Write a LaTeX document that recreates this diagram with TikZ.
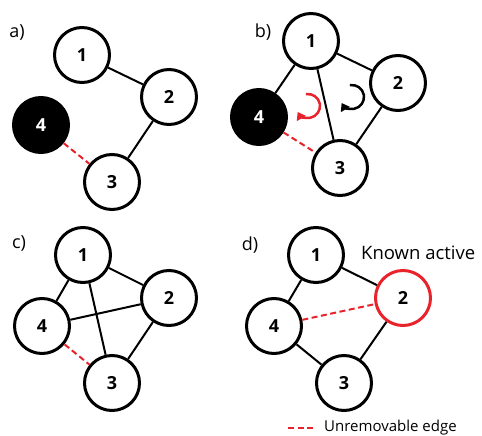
\documentclass[tikz,border=0pt]{standalone}
\usepackage{fontspec}
\setmainfont{Open Sans}
\usetikzlibrary{arrows.meta}
\definecolor{alertred}{HTML}{E8232B}
\begin{document}
\begin{tikzpicture}[x=1pt,y=-1pt,
  vertex/.style={circle,draw=black,line width=3pt,minimum size=55pt,inner sep=0pt,
    fill=white,font=\fontsize{18}{20}\selectfont\bfseries},
  blackvertex/.style={vertex,fill=black,text=white},
  activevertex/.style={vertex,draw=alertred},
  edge/.style={line width=2pt,black},
  fixededge/.style={line width=2pt,alertred,dash pattern=on 6pt off 3.5pt},
  panel/.style={inner sep=0pt,font=\fontsize{18}{20}\selectfont},
  caption/.style={inner sep=0pt,anchor=west},
  turn/.style={line width=2.5pt,-{Triangle[length=7.5pt,width=10pt]}}
]
\useasboundingbox (0,0) rectangle (482,436);

% ---- a) ----
\node[panel] (la) at (17,32) {a)};
\node[vertex] (a1) at (82,55) {1};
\node[vertex] (a2) at (169,97) {2};
\node[vertex] (a3) at (112,182) {3};
\node[blackvertex] (a4) at (41,125) {4};
\draw[edge] (a1) -- (a2);
\draw[edge] (a2) -- (a3);
\draw[fixededge] (a4) -- (a3);

% ---- b) ----
\node[panel] (lb) at (263,32) {b)};
\node[vertex] (b1) at (311,41) {1};
\node[vertex] (b2) at (398,83) {2};
\node[vertex] (b3) at (340,168) {3};
\node[blackvertex] (b4) at (259,117) {4};
\draw[edge] (b1) -- (b2);
\draw[edge] (b2) -- (b3);
\draw[edge] (b1) -- (b4);
\draw[edge] (b1) -- (b3);
\draw[fixededge] (b4) -- (b3);
% cycle orientation marks
\draw[turn,alertred] (308,106) ++(-100:12) arc[start angle=-100,end angle=150,radius=12];
\draw[turn,black] (352,97) ++(-100:12) arc[start angle=-100,end angle=150,radius=12];

% ---- c) ----
\node[panel] (lc) at (19,243) {c)};
\node[vertex] (c1) at (83,255) {1};
\node[vertex] (c2) at (169,298) {2};
\node[vertex] (c3) at (112,383) {3};
\node[vertex] (c4) at (42,326) {4};
\draw[edge] (c1) -- (c2);
\draw[edge] (c2) -- (c3);
\draw[edge] (c1) -- (c4);
\draw[edge] (c1) -- (c3);
\draw[edge] (c4) -- (c2);
\draw[fixededge] (c4) -- (c3);

% ---- d) ----
\node[panel] (ld) at (250,245) {d)};
\node[vertex] (d1) at (316,255) {1};
\node[activevertex] (d2) at (403,298) {2};
\node[vertex] (d3) at (344,383) {3};
\node[vertex] (d4) at (274,326) {4};
\draw[edge] (d1) -- (d2);
\draw[edge] (d2) -- (d3);
\draw[edge] (d1) -- (d4);
\draw[edge] (d4) -- (d3);
\draw[fixededge] (d4) -- (d2);
\node[caption,font=\fontsize{18.5}{20}\selectfont] (known) at (361,253) {Known active};

% ---- legend ----
\coordinate (kl) at (288,428);
\coordinate (kr) at (314,428);
\draw[fixededge] (kl) -- (kr);
\node[caption,font=\fontsize{15}{18}\selectfont] (keytext) at (324,428) {Unremovable edge};
\end{tikzpicture}
\end{document}
